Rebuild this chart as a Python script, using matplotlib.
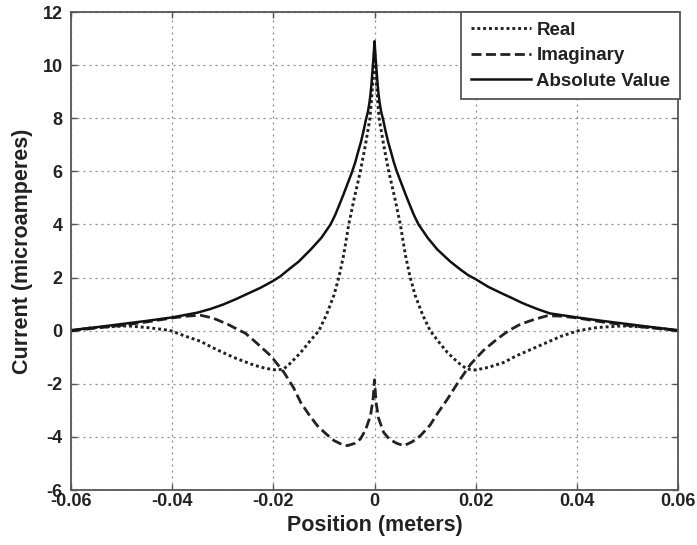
import matplotlib
matplotlib.use("Agg")
import matplotlib.pyplot as plt

plt.rcParams['font.family'] = ['Liberation Sans', 'DejaVu Sans']
plt.rcParams['axes.unicode_minus'] = False

# Absolute value of the current along the wire
x_abs = [-0.06, -0.055, -0.05, -0.045, -0.04, -0.035, -0.0324, -0.03, -0.0275,
         -0.025, -0.0225, -0.02, -0.0186, -0.017, -0.015, -0.0126, -0.0105,
         -0.0087, -0.0078, -0.007, -0.0062, -0.0055, -0.0049, -0.0044, -0.0038,
         -0.0033, -0.0027, -0.0022, -0.0017, -0.0013, -0.001, -0.0008, -0.0006,
         -0.0004, -0.0002, 0.0,
         0.0002, 0.0004, 0.0006, 0.0008, 0.001, 0.0013, 0.0017, 0.0022, 0.0027,
         0.0033, 0.0038, 0.0044, 0.0049, 0.0055, 0.0062, 0.007, 0.0078, 0.0087,
         0.0105, 0.0124, 0.015, 0.017, 0.0186, 0.0199, 0.0225, 0.025, 0.0275,
         0.0288, 0.03, 0.0324, 0.0347, 0.04, 0.045, 0.05, 0.055, 0.06]
y_abs = [0.02, 0.13, 0.25, 0.37, 0.5, 0.68, 0.82, 0.98, 1.18,
         1.4, 1.62, 1.88, 2.05, 2.3, 2.6, 3.06, 3.5,
         4.0, 4.35, 4.72, 5.1, 5.45, 5.75, 6.0, 6.35,
         6.7, 7.1, 7.5, 7.95, 8.25, 8.6, 8.9, 9.3,
         9.8, 10.3, 10.9,
         10.3, 9.8, 9.3, 8.9, 8.6, 8.25, 7.95, 7.5, 7.1,
         6.7, 6.35, 6.0, 5.75, 5.45, 5.1, 4.72, 4.35, 4.0,
         3.5, 3.06, 2.6, 2.3, 2.08, 1.95, 1.65, 1.42, 1.2,
         1.08, 0.98, 0.8, 0.65, 0.5, 0.37, 0.25, 0.13, 0.02]

# Real part
x_real = [-0.06, -0.057, -0.0554, -0.05, -0.0488, -0.045, -0.042, -0.0403,
          -0.0375, -0.0344, -0.0324, -0.03, -0.0278, -0.0238, -0.0215, -0.0195,
          -0.018, -0.0165, -0.0146, -0.0128, -0.011, -0.0095, -0.008, -0.007,
          -0.0061, -0.0051, -0.004, -0.0028, -0.0018, -0.0009, -0.0004, 0.0,
          0.0004, 0.0009, 0.0018, 0.0028, 0.004, 0.0051, 0.0061, 0.007, 0.008,
          0.0095, 0.011, 0.0128, 0.0144, 0.0165, 0.0183, 0.02, 0.0225, 0.0255,
          0.028, 0.031, 0.0341, 0.037, 0.0403, 0.044, 0.049, 0.055, 0.06]
y_real = [0.0, 0.08, 0.12, 0.17, 0.18, 0.12, 0.05, 0.0,
          -0.2, -0.4, -0.6, -0.82, -1.01, -1.3, -1.42, -1.48,
          -1.45, -1.2, -0.82, -0.4, 0.0, 0.6, 1.35, 2.05,
          2.85, 4.0, 5.0, 6.0, 7.0, 8.0, 9.2, 10.6,
          9.2, 8.0, 7.0, 6.0, 5.0, 4.0, 2.85, 2.05, 1.35,
          0.6, 0.0, -0.45, -0.82, -1.2, -1.45, -1.48, -1.38, -1.2,
          -0.95, -0.7, -0.44, -0.2, 0.0, 0.12, 0.18, 0.12, 0.0]

# Imaginary part
x_imag = [-0.06, -0.055, -0.05, -0.045, -0.04, -0.037, -0.0344, -0.032, -0.029,
          -0.0278, -0.0255, -0.0238, -0.0205, -0.0179, -0.016, -0.0146, -0.013,
          -0.0113, -0.0095, -0.008, -0.0065, -0.0054, -0.004, -0.0028, -0.0018,
          -0.0008, -0.0003, 0.0,
          0.0003, 0.0008, 0.0018, 0.003, 0.0045, 0.0058, 0.0075, 0.0091, 0.011,
          0.0125, 0.0144, 0.0165, 0.019, 0.0215, 0.0242, 0.0265, 0.0288, 0.0315,
          0.0341, 0.037, 0.04, 0.045, 0.05, 0.055, 0.06]
y_imag = [0.0, 0.1, 0.2, 0.33, 0.48, 0.55, 0.58, 0.48, 0.24,
          0.12, -0.1, -0.38, -0.95, -1.57, -2.15, -2.7, -3.15,
          -3.58, -3.9, -4.14, -4.28, -4.33, -4.25, -4.08, -3.75,
          -3.2, -2.6, -1.85,
          -2.7, -3.3, -3.83, -4.1, -4.25, -4.33, -4.18, -3.95, -3.55,
          -3.1, -2.58, -1.95, -1.26, -0.75, -0.32, 0.0, 0.24, 0.42,
          0.56, 0.55, 0.48, 0.33, 0.2, 0.1, 0.0]

x_ticks = [-0.06, -0.04, -0.02, 0, 0.02, 0.04, 0.06]
x_tick_labels = ['-0.06', '-0.04', '-0.02', '0', '0.02', '0.04', '0.06']
y_ticks = [-6, -4, -2, 0, 2, 4, 6, 8, 10, 12]

fig = plt.figure(figsize=(6.97, 5.45), dpi=100)
ax = fig.add_axes([0.1019, 0.1009, 0.8709, 0.877])

ax.plot(x_real, y_real, color='#222222', lw=2.1, linestyle=(0, (1.0, 1.0)),
        label='Real')
ax.plot(x_imag, y_imag, color='#222222', lw=2.0, linestyle=(0, (3.6, 1.6)),
        label='Imaginary')
ax.plot(x_abs, y_abs, color='#111111', lw=1.8, linestyle='-',
        label='Absolute Value')

ax.set_xlim(-0.06, 0.06)
ax.set_ylim(-6, 12)
ax.set_xticks(x_ticks)
ax.set_xticklabels(x_tick_labels)
ax.set_yticks(y_ticks)

ax.grid(True, color='#8a8a8a', lw=0.9, linestyle=(0, (1.6, 3.2)))
ax.set_axisbelow(True)

for s in ax.spines.values():
    s.set_color('#555555')
    s.set_linewidth(1.3)

ax.tick_params(direction='in', length=4, width=1.0, color='#555555',
               top=True, right=True, labelsize=13)
ax.tick_params(axis='x', pad=2)
ax.tick_params(axis='y', pad=6)
for lab in ax.get_xticklabels() + ax.get_yticklabels():
    lab.set_fontweight('bold')
    lab.set_color('#222222')

ax.set_xlabel('Position (meters)', fontsize=15.5, fontweight='bold',
              color='#222222', labelpad=4)
ax.set_ylabel('Current (microamperes)', fontsize=15.5, fontweight='bold',
              color='#222222', labelpad=7)

leg = ax.legend(loc='upper right', bbox_to_anchor=(1.003, 1.0),
                borderaxespad=0.0, fancybox=False, framealpha=1.0,
                edgecolor='#555555', handlelength=3.2, handletextpad=0.3,
                labelspacing=0.45, borderpad=0.5,
                prop={'weight': 'bold', 'size': 13.5})
leg.get_frame().set_linewidth(1.3)
for t in leg.get_texts():
    t.set_color('#222222')

fig.savefig('out.png', dpi=100)
